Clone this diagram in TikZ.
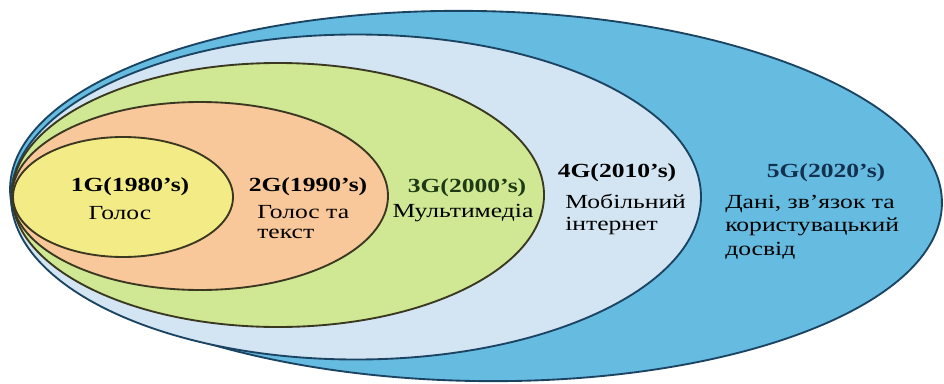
\documentclass[tikz,border=0pt]{standalone}
\usepackage{fontspec}
\setmainfont[FakeStretch=1.28]{Liberation Serif}
\definecolor{fillone}{HTML}{F3EC86}
\definecolor{filltwo}{HTML}{F8C79A}
\definecolor{fillthree}{HTML}{D0E893}
\definecolor{fillfour}{HTML}{D3E5F3}
\definecolor{fillfive}{HTML}{66BBE0}
\definecolor{lineinner}{HTML}{3A3820}
\definecolor{lineouter}{HTML}{1B4463}
\definecolor{textgreen}{HTML}{1E3A14}
\definecolor{textnavy}{HTML}{14304F}
\begin{document}
\begin{tikzpicture}[x=0.75pt,y=0.75pt,
  ring/.style={line width=1.4pt},
  head/.style={font=\fontsize{15}{16}\selectfont\bfseries, inner sep=0pt},
  txt/.style={font=\fontsize{15}{16.5}\selectfont, inner sep=0pt, align=left}]
\useasboundingbox (0,0) rectangle (944,383);
% generations, outside in
\draw[ring, fill=fillfive, draw=lineouter, rotate around={-1:(476,187)}] (476,187) ellipse [x radius=466, y radius=185];
\draw[ring, fill=fillfour, draw=lineouter] (356,186) ellipse [x radius=345, y radius=162.5];
\draw[ring, fill=fillthree, draw=lineinner] (278,188) ellipse [x radius=266, y radius=132];
\draw[ring, fill=filltwo, draw=lineinner] (200,187) ellipse [x radius=188, y radius=94];
\draw[ring, fill=fillone, draw=lineinner] (123,186) ellipse [x radius=110, y radius=60];
% labels (base = last line)
\node[head] (g1) at (130,196) {1G(1980’s)};
\node[txt] (g1txt) at (120,170) {Голос};
\node[head] (g2) at (308,196) {2G(1990’s)};
\node[txt, anchor=base west, font=\fontsize{15}{15}\selectfont] (g2txt) at (257,145) {Голос та\\текст};
\node[head, text=textgreen] (g3) at (467,195) {3G(2000’s)};
\node[txt] (g3txt) at (463,170) {Мультимедіа};
\node[head] (g4) at (617,210) {4G(2010’s)};
\node[txt, anchor=base west] (g4txt) at (565,153) {Мобільний\\інтернет};
\node[head, text=textnavy] (g5) at (826,210) {5G(2020’s)};
\node[txt, anchor=base west, font=\fontsize{15}{17.6}\selectfont] (g5txt) at (725,128) {Дані, звʼязок та\\користувацький\\досвід};
\end{tikzpicture}
\end{document}
